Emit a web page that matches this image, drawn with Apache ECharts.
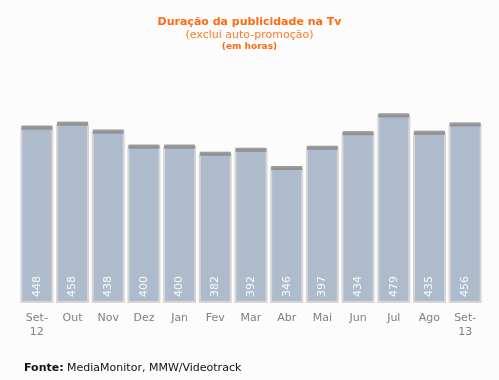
<!DOCTYPE html>
<html><head><meta charset="utf-8">
<script src="https://cdn.jsdelivr.net/npm/echarts@6/dist/echarts.min.js"></script>
<style>html,body{margin:0;padding:0;background:#fcfcfc}#c{width:499px;height:380px}</style>
</head><body><div id="c"></div>
<script>
const categories = ['Set-\n12','Out','Nov','Dez','Jan','Fev','Mar','Abr','Mai','Jun','Jul','Ago','Set-\n13'];
const hours = [448,458,438,400,400,382,392,346,397,434,479,435,456];
const titleText = 'Duração da publicidade na Tv';
const subtitleText = '(exclui auto-promoção)';
const unitText = '(em horas)';
const sourceLabel = 'Fonte:';
const sourceText = 'MediaMonitor, MMW/Videotrack';

const FONT = 'DejaVu Sans';
const chart = echarts.init(document.getElementById('c'), null, {renderer:'canvas'});
chart.setOption({
  backgroundColor: '#fcfcfc',
  animation: false,
  title: [
    {text: titleText, left: 'center', top: 12, textStyle:{fontFamily:FONT, fontSize:11, fontWeight:'bold', color:'#ff6a10'}},
    {text: subtitleText, left: 'center', top: 25, textStyle:{fontFamily:FONT, fontSize:11, fontWeight:'normal', color:'#ff7b2a'}},
    {text: unitText, left: 'center', top: 37, textStyle:{fontFamily:FONT, fontSize:9, fontWeight:'bold', color:'#ff6a10'}},
    {text: '{b|' + sourceLabel + '} ' + sourceText, left: 19, top: 358,
     textStyle:{fontFamily:FONT, fontSize:11, fontWeight:'normal', color:'#111', rich:{b:{fontFamily:FONT, fontSize:11, fontWeight:'bold', color:'#111'}}}}
  ],
  grid: {left: 19, right: 16, top: 105, bottom: 77},
  xAxis: {
    type: 'category', data: categories,
    axisLine:{show:false}, axisTick:{show:false},
    axisLabel:{fontFamily:FONT, fontSize:11, color:'#808080', margin:8, lineHeight:14}
  },
  yAxis: {type:'value', min:0, max:500, show:false, splitLine:{show:false}},
  series: [
    {
      type:'bar', data: hours, barWidth: 33,
      itemStyle:{color:'#aebbcc', borderColor:'#d6d6d6', borderWidth:2, borderRadius:[3,3,0,0]},
      label:{show:true, position:'insideBottom', rotate:90, align:'left', verticalAlign:'middle', distance:6,
             fontFamily:FONT, fontSize:11, color:'#fafafa'}
    },
    {
      type:'pictorialBar', data: hours, symbol:'rect', symbolSize:[31,4], symbolPosition:'end',
      symbolOffset:[0,0], barGap:'-100%', z:5, silent:true,
      itemStyle:{color:{type:'linear',x:0,y:0,x2:0,y2:1,colorStops:[{offset:0,color:'#a0a0a0'},{offset:1,color:'#8c8c8c'}]}}
    }
  ]
});
</script></body></html>
